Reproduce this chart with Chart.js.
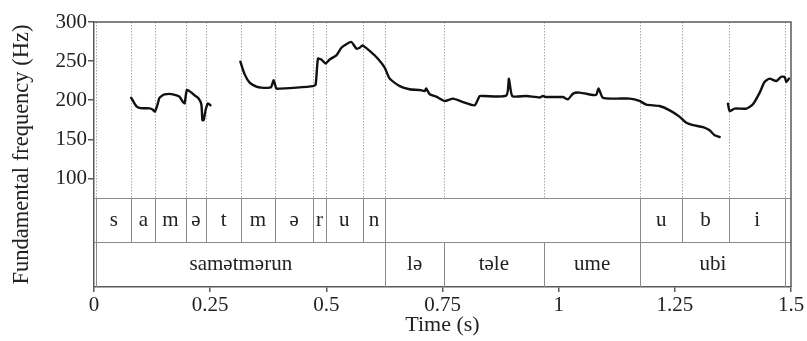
<!DOCTYPE html>
<html>
<head>
<meta charset="utf-8">
<script src="https://cdn.jsdelivr.net/npm/chart.js@4/dist/chart.umd.min.js"></script>
<style>
	html, body { margin: 0; padding: 0; background: #fff; }
	#chart { display: block; }
</style>
</head>
<body>
<canvas id="chart" width="807" height="341"></canvas>
<script>
// pitch track, time in s / F0 in Hz (null = unvoiced gap)
const pitchTime = [
	0.080, 0.086, 0.091, 0.098, 0.105, 0.120, 0.126, 0.131, 0.136, 0.141, 0.147, 0.152, 0.162, 0.170,
	0.178, 0.184, 0.1915, 0.195, 0.200, 0.2096, 0.217, 0.224, 0.231, 0.2333, 0.236, 0.2404, 0.2453, 0.2505,
	0.28,
	0.315, 0.3243, 0.335, 0.3495, 0.360, 0.378, 0.3817, 0.3867, 0.3925, 0.3996, 0.4356, 0.4713, 0.477, 0.482,
	0.4893, 0.4986, 0.5072, 0.5216, 0.5324, 0.543, 0.554, 0.5647, 0.5718, 0.5776, 0.5933, 0.611, 0.6256, 0.6363,
	0.658, 0.679, 0.701, 0.7116, 0.715, 0.7224, 0.7368, 0.7547, 0.7726, 0.794, 0.8192, 0.83, 0.8386, 0.8875,
	0.893, 0.9003, 0.9305, 0.959, 0.966, 0.973, 1.009, 1.02, 1.031, 1.045, 1.074, 1.081, 1.086, 1.0953,
	1.124, 1.153, 1.174, 1.1887, 1.217, 1.239, 1.26, 1.275, 1.289, 1.3105, 1.325, 1.3357, 1.3465,
	1.355,
	1.3643, 1.368, 1.3787, 1.404, 1.418, 1.4326, 1.443, 1.454, 1.4685, 1.479, 1.4863, 1.49, 1.4956,
];
const pitchHz = [
	203, 197, 192.5, 190, 189.6, 189.5, 188, 185.4, 193, 203, 206, 207.5, 208, 207.5,
	206, 204.5, 197.6, 196, 213, 209.7, 206, 203, 194.7, 174.6, 174.6, 188, 196, 193.5,
	null,
	249.3, 233, 222.5, 217.3, 216, 216, 217.3, 225.4, 214.8, 214.8, 216, 218, 220, 253,
	252, 247, 252, 257.4, 267, 271.5, 274.4, 266, 267, 270, 263, 253, 241.6, 227.6,
	218, 214, 213, 211.7, 214.8, 207.5, 204.5, 199, 202, 197.6, 193.4, 205.3, 205.3, 206,
	227.6, 205.3, 205.3, 203.5, 205.3, 204, 204, 201, 208.4, 209.7, 206.6, 207, 214.8, 203,
	202, 202, 199, 194.3, 192.5, 187, 179, 171, 168, 165.6, 161.4, 155, 152.9,
	null,
	195.6, 186, 189.2, 189.2, 194.7, 209.7, 223.2, 227.6, 224.5, 230, 229.6, 223.2, 227.6,
];

// segmentation tiers (boundaries in s, one more than labels)
const phoneLabels = ['s', 'a', 'm', 'ə', 't', 'm', 'ə', 'r', 'u', 'n', '', 'u', 'b', 'i'];
const phoneBounds = [0.005, 0.0805, 0.132, 0.197, 0.242, 0.316, 0.390, 0.472, 0.499, 0.578, 0.627, 1.176, 1.266, 1.366, 1.488];
const wordLabels = ['samətmərun', 'lə', 'təle', 'ume', 'ubi'];
const wordBounds = [0.005, 0.627, 0.753, 0.968, 1.176, 1.488];

const yTicks = [100, 150, 200, 250, 300];
const xTicks = [0, 0.25, 0.5, 0.75, 1, 1.25, 1.5];

const f0Floor = 75;   // pitch panel bottom, tiers sit under it
const serif = '"Liberation Serif", "DejaVu Serif", "Times New Roman", serif';
const axisColor = '#5a5a5a';

// draws the dotted boundary lines, the two label tiers and the frame
let tierPlugin = {
	id: 'tiers',
	beforeDatasetsDraw (chart) {
		let { ctx, chartArea, scales: { x, y } } = chart;
		let floorY = y.getPixelForValue(f0Floor);
		let allBounds = [...new Set([...phoneBounds, ...wordBounds])];

		ctx.save();
		ctx.strokeStyle = '#a8a8a8';
		ctx.lineWidth = 1;
		ctx.setLineDash([1.5, 1.5]);
		allBounds.forEach((t) => {
			let px = Math.round(x.getPixelForValue(t)) + 0.5;
			ctx.beginPath();
			ctx.moveTo(px, chartArea.top);
			ctx.lineTo(px, floorY);
			ctx.stroke();
		});
		ctx.restore();
	},
	afterDatasetsDraw (chart) {
		let { ctx, chartArea, scales: { x, y } } = chart;
		let floorY = y.getPixelForValue(f0Floor);
		let midY = (floorY + chartArea.bottom) / 2;

		let drawTier = (labels, bounds, top, bottom) => {
			ctx.strokeStyle = '#8a8a8a';
			ctx.lineWidth = 1;
			bounds.forEach((t) => {
				let px = Math.round(x.getPixelForValue(t)) + 0.5;
				ctx.beginPath();
				ctx.moveTo(px, top);
				ctx.lineTo(px, bottom);
				ctx.stroke();
			});
			ctx.fillStyle = '#222';
			ctx.font = '21px ' + serif;
			ctx.textAlign = 'center';
			ctx.textBaseline = 'middle';
			labels.forEach((lab, i) => {
				if (!lab) { return; }
				let cx = (x.getPixelForValue(bounds[i]) + x.getPixelForValue(bounds[i + 1])) / 2;
				ctx.fillText(lab, cx, (top + bottom) / 2);
			});
		};

		ctx.save();
		// horizontal tier lines
		ctx.strokeStyle = '#8a8a8a';
		ctx.lineWidth = 1;
		[floorY, midY].forEach((py) => {
			ctx.beginPath();
			ctx.moveTo(chartArea.left, Math.round(py) + 0.5);
			ctx.lineTo(chartArea.right, Math.round(py) + 0.5);
			ctx.stroke();
		});
		drawTier(phoneLabels, phoneBounds, floorY, midY);
		drawTier(wordLabels, wordBounds, midY, chartArea.bottom);

		// top and right frame lines
		ctx.strokeStyle = axisColor;
		ctx.lineWidth = 1.5;
		ctx.beginPath();
		ctx.moveTo(chartArea.left, chartArea.top);
		ctx.lineTo(chartArea.right, chartArea.top);
		ctx.lineTo(chartArea.right, chartArea.bottom);
		ctx.stroke();
		ctx.restore();
	},
};

let chart = new Chart(document.getElementById('chart'), {
	type: 'line',
	data: {
		datasets: [{
			data: pitchTime.map((t, i) => ({ x: t, y: pitchHz[i] })),
			borderColor: '#111',
			borderWidth: 2.4,
			borderJoinStyle: 'round',
			borderCapStyle: 'round',
			pointRadius: 0,
			spanGaps: false,
			tension: 0.2,
			fill: false,
		}],
	},
	options: {
		responsive: false,
		animation: false,
		layout: { padding: { top: 22, right: 16, left: 0, bottom: 0 } },
		plugins: {
			legend: { display: false },
			tooltip: { enabled: false },
		},
		scales: {
			x: {
				type: 'linear',
				min: 0,
				max: 1.5,
				afterBuildTicks: (scale) => { scale.ticks = xTicks.map(v => ({ value: v })); },
				afterFit: (scale) => { scale.height = 54; },
				ticks: {
					callback: v => String(v),
					color: '#222',
					font: { family: serif, size: 21 },
					padding: 1,
					maxRotation: 0,
				},
				grid: { drawOnChartArea: false, tickLength: 5, color: axisColor, lineWidth: 1.5 },
				border: { color: axisColor, width: 1.5 },
				title: {
					display: true,
					text: 'Time (s)',
					color: '#222',
					font: { family: serif, size: 22 },
					padding: { top: 0, bottom: 3 },
				},
			},
			y: {
				min: -39,
				max: 300,
				afterBuildTicks: (scale) => { scale.ticks = yTicks.map(v => ({ value: v })); },
				afterFit: (scale) => { scale.width = 94; },
				ticks: {
					color: '#222',
					font: { family: serif, size: 21 },
					padding: 1,
				},
				grid: { drawOnChartArea: false, tickLength: 6, color: axisColor, lineWidth: 1.5 },
				border: { color: axisColor, width: 1.5 },
				title: {
					display: true,
					text: 'Fundamental frequency (Hz)',
					color: '#222',
					font: { family: serif, size: 22.5 },
					padding: { top: 9, bottom: 0 },
				},
			},
		},
	},
	plugins: [tierPlugin],
});
</script>
</body>
</html>
